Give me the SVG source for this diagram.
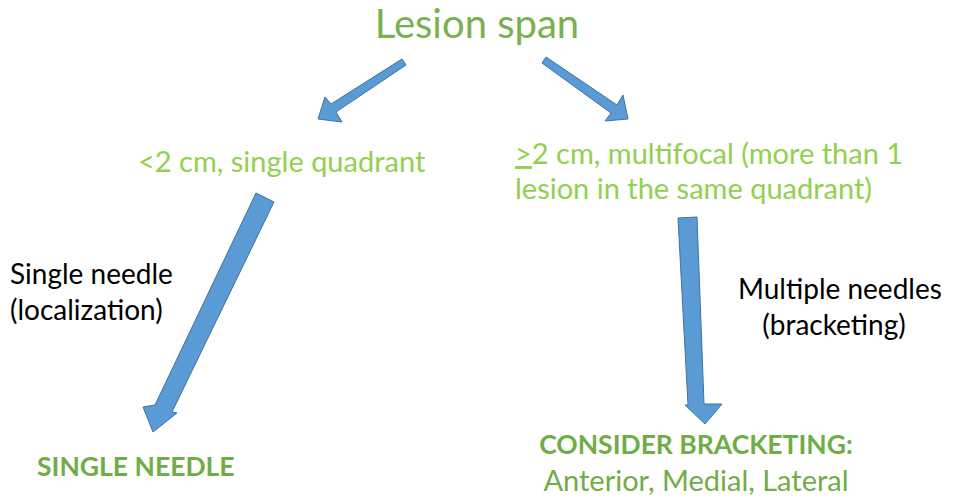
<svg xmlns="http://www.w3.org/2000/svg" width="960" height="504" viewBox="0 0 960 504">
<style>
text{font-family:Lato,"Open Sans","Liberation Sans",sans-serif}
.t{fill:#77b150;font-size:40px}
.g{fill:#92d050;font-size:29px}
.k{fill:#000;font-size:28px}
.b{fill:#70ad47;font-size:26.5px;font-weight:bold}
.n{fill:#70ad47;font-size:29px}
.a{fill:#5b9bd5;stroke:#41719c;stroke-width:1}
</style>
<rect width="960" height="504" fill="#fff"/>
<g id="lesion-span"><text class="t" x="477" y="38" text-anchor="middle">Lesion span</text></g>
<g id="small"><text class="g" x="138" y="172">&lt;2 cm, single quadrant</text></g>
<g id="large"><text class="g" x="515" y="164"><tspan text-decoration="underline">&gt;</tspan>2 cm, multifocal (more than 1</text><text class="g" x="515" y="199">lesion in the same quadrant)</text></g>
<g id="single-label"><text class="k" x="10" y="284">Single needle</text><text class="k" x="10" y="320">(localization)</text></g>
<g id="multi-label"><text class="k" x="738" y="299">Multiple needles</text><text class="k" x="834" y="335" text-anchor="middle">(bracketing)</text></g>
<g id="single-needle"><text class="b" x="37" y="476">SINGLE NEEDLE</text></g>
<g id="bracketing"><text class="b" x="696" y="454" text-anchor="middle">CONSIDER BRACKETING:</text><text class="n" x="696" y="491" text-anchor="middle">Anterior, Medial, Lateral</text></g>
<g id="connectors">
<polygon class="a" points="402,59 406,65 336,112 342,122 318,119 325,97 331,104"/>
<polygon class="a" points="546,57 542,63 611,113 605,121 628,119 623,95 617,105"/>
<polygon class="a" points="256,193 274,202 172,412 177,413 153,432 143,407 155,405"/>
<polygon class="a" points="678,218 697,217 704,404 722,404 705,424 685,405 688,405"/>
</g>
</svg>
